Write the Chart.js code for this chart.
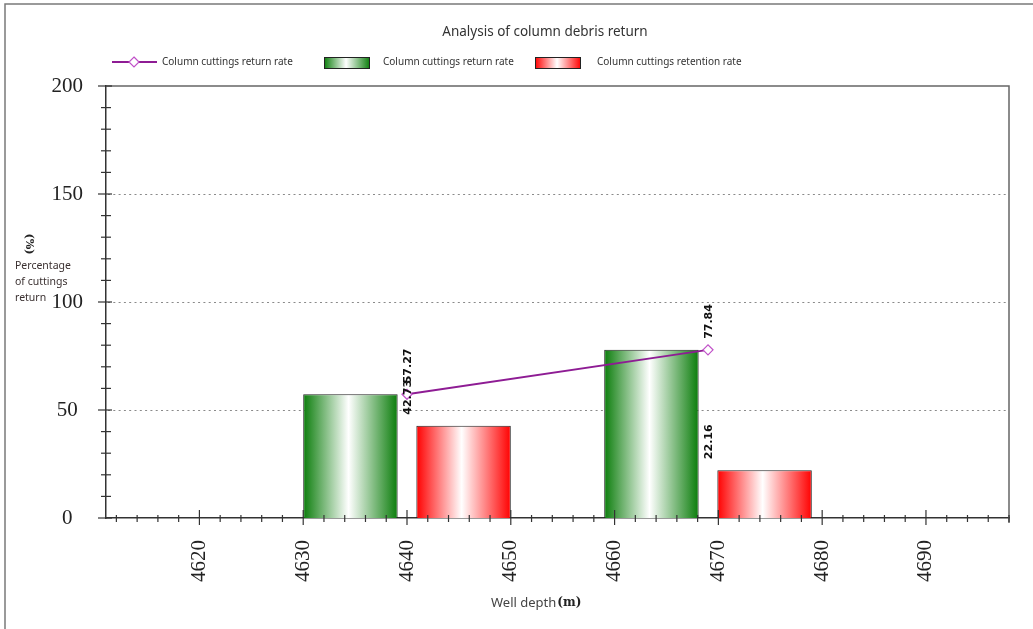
<!DOCTYPE html>
<html>
<head>
<meta charset="utf-8">
<script src="https://cdn.jsdelivr.net/npm/chart.js@4"></script>
<style>
  html, body { margin: 0; padding: 0; background: #fff; }
  #wrap { width: 1033px; height: 629px; position: relative; }
</style>
</head>
<body>
<div id="wrap"><canvas id="debrisChart"></canvas></div>
<script>
// Depth of each interval centre (m) and the rates
const depthCenters = [4640, 4669];
const returnRate = [57.27, 77.84];
const retentionRate = [42.73, 22.16];
// Bar positions (m): return bar left of centre, retention bar right of it
const returnBarDepth = [4634.55, 4663.55];
const retentionBarDepth = [4645.45, 4674.45];
const xTickStep = 10;
const yTickStep = 50;

const seriesNames = ["Column cuttings return rate", "Column cuttings return rate", "Column cuttings retention rate"];

const GREEN = "#0b7d0b";
const RED = "#ff0000";
const PURPLE = "#8e1c94";
const HALF_BAR = 4.55; // half the bar width in metres (0.91 of one 10 m tick step)

function barGradient(c, dark) {
    const chart = c.chart;
    const x = chart.scales.x;
    if (!chart.chartArea || !x || !c.raw) return dark;
    const l = x.getPixelForValue(c.raw.x - HALF_BAR);
    const r = x.getPixelForValue(c.raw.x + HALF_BAR);
    const g = chart.ctx.createLinearGradient(l, 0, r, 0);
    g.addColorStop(0, dark);
    g.addColorStop(0.48, "#ffffff");
    g.addColorStop(1, dark);
    return g;
}

// ticks, dotted grid and frame
const framePlugin = {
    id: "frame",
    beforeDatasetsDraw(chart) {
        const {ctx, chartArea: a, scales: {y}} = chart;
        ctx.save();
        ctx.strokeStyle = "#8a8a8a";
        ctx.lineWidth = 1;
        ctx.setLineDash([2, 3.3]);
        for (let v = yTickStep; v < 200; v += yTickStep) {
            const py = Math.round(y.getPixelForValue(v)) + 0.5;
            ctx.beginPath();
            ctx.moveTo(a.left + 2, py);
            ctx.lineTo(a.right, py);
            ctx.stroke();
        }
        ctx.restore();
    },
    afterDraw(chart) {
        const {ctx, chartArea: a, scales: {x, y}} = chart;
        ctx.save();
        // outer frame
        ctx.strokeStyle = "#7a7a7a";
        ctx.lineWidth = 1.5;
        ctx.beginPath();
        ctx.moveTo(5, 629);
        ctx.lineTo(5, 4);
        ctx.lineTo(1033, 4);
        ctx.stroke();
        // plot frame top and right
        ctx.strokeStyle = "#666";
        ctx.beginPath();
        ctx.moveTo(a.left, a.top);
        ctx.lineTo(a.right, a.top);
        ctx.lineTo(a.right, a.bottom + 5);
        ctx.stroke();
        // y ticks
        ctx.strokeStyle = "#333";
        ctx.lineWidth = 1.2;
        for (let v = 0; v <= 200; v += 10) {
            const py = y.getPixelForValue(v);
            const major = v % yTickStep === 0;
            ctx.beginPath();
            ctx.moveTo(a.left - (major ? 8 : 5), py);
            ctx.lineTo(a.left + (major ? 6 : 5), py);
            ctx.stroke();
        }
        // x ticks
        for (let v = 4612; v <= 4698; v += 2) {
            const px = x.getPixelForValue(v);
            const major = v % xTickStep === 0;
            ctx.beginPath();
            ctx.moveTo(px, a.bottom - (major ? 8 : 3));
            ctx.lineTo(px, a.bottom + (major ? 7 : 4));
            ctx.stroke();
        }
        ctx.restore();
    }
};

// title, legend, axis titles and value labels
const textPlugin = {
    id: "texts",
    afterDraw(chart) {
        const {ctx, scales: {x, y}} = chart;
        ctx.save();
        ctx.fillStyle = "#333";
        ctx.textBaseline = "middle";
        ctx.font = "13.5px 'Noto Sans'";
        ctx.textAlign = "center";
        ctx.fillText("Analysis of column debris return", 545, 32);

        // legend
        ctx.textAlign = "left";
        ctx.font = "10px 'Noto Sans'";
        ctx.strokeStyle = PURPLE;
        ctx.lineWidth = 2;
        ctx.beginPath();
        ctx.moveTo(112, 62);
        ctx.lineTo(157, 62);
        ctx.stroke();
        ctx.fillStyle = "#fff";
        ctx.strokeStyle = "#c050c8";
        ctx.lineWidth = 1.2;
        ctx.beginPath();
        ctx.moveTo(134, 57); ctx.lineTo(139, 62); ctx.lineTo(134, 67); ctx.lineTo(129, 62); ctx.closePath();
        ctx.fill(); ctx.stroke();
        ctx.fillStyle = "#333";
        ctx.fillText(seriesNames[0], 162, 62);

        const boxes = [[324, GREEN, seriesNames[1], 383], [535, RED, seriesNames[2], 597]];
        boxes.forEach(([bx, col, label, tx]) => {
            const g = ctx.createLinearGradient(bx, 0, bx + 46, 0);
            g.addColorStop(0, col); g.addColorStop(0.48, "#fff"); g.addColorStop(1, col);
            ctx.fillStyle = g;
            ctx.fillRect(bx, 57, 46, 12);
            ctx.strokeStyle = "#222";
            ctx.lineWidth = 1;
            ctx.strokeRect(bx + 0.5, 57.5, 45, 11);
            ctx.fillStyle = "#333";
            ctx.fillText(label, tx, 62);
        });

        // y axis title
        ctx.save();
        ctx.translate(29, 244);
        ctx.rotate(Math.PI / 2);
        ctx.textAlign = "center";
        ctx.font = "bold 11px 'DejaVu Serif'";
        ctx.fillStyle = "#222";
        ctx.fillText("(%)", 0, 0);
        ctx.restore();
        ctx.font = "10.5px 'Noto Sans'";
        ctx.fillStyle = "#3a3030";
        ctx.fillText("Percentage", 15, 266);
        ctx.fillText("of cuttings", 15, 282);
        ctx.fillText("return", 15, 298);

        // x axis title
        ctx.font = "13px 'Noto Sans'";
        ctx.fillStyle = "#444";
        ctx.fillText("Well depth", 491, 603);
        const w = ctx.measureText("Well depth").width;
        ctx.font = "bold 12px 'DejaVu Serif'";
        ctx.fillStyle = "#222";
        ctx.fillText("(m)", 491 + w + 1, 603);

        // value labels, rotated, above each value at the interval centre
        ctx.font = "bold 11px 'DejaVu Sans'";
        ctx.fillStyle = "#111";
        const labelAt = (d, v) => {
            ctx.save();
            ctx.translate(x.getPixelForValue(d) + 1, y.getPixelForValue(v) - 11);
            ctx.rotate(-Math.PI / 2);
            ctx.textAlign = "left";
            ctx.fillText(v.toFixed(2), 0, 0);
            ctx.restore();
        };
        depthCenters.forEach((d, i) => {
            labelAt(d, returnRate[i]);
            labelAt(d, retentionRate[i]);
        });
        ctx.restore();
    }
};

const serif = {family: "'Liberation Serif', 'DejaVu Serif', serif", size: 21};

new Chart(document.getElementById("debrisChart").getContext("2d"), {
    type: "bar",
    data: {
        datasets: [
            {
                type: "line",
                label: seriesNames[0],
                data: depthCenters.map((d, i) => ({x: d, y: returnRate[i]})),
                borderColor: PURPLE,
                borderWidth: 2,
                pointStyle: "rectRot",
                pointRadius: 5,
                pointBackgroundColor: "#fff",
                pointBorderColor: "#c050c8",
                pointBorderWidth: 1.2,
                order: 0
            },
            {
                label: seriesNames[1],
                data: returnBarDepth.map((d, i) => ({x: d, y: returnRate[i]})),
                backgroundColor: c => barGradient(c, GREEN),
                borderColor: "#222",
                borderWidth: 1,
                grouped: false,
                barPercentage: 1,
                categoryPercentage: 0.91,
                order: 1
            },
            {
                label: seriesNames[2],
                data: retentionBarDepth.map((d, i) => ({x: d, y: retentionRate[i]})),
                backgroundColor: c => barGradient(c, RED),
                borderColor: "#222",
                borderWidth: 1,
                grouped: false,
                barPercentage: 1,
                categoryPercentage: 0.91,
                order: 1
            }
        ]
    },
    options: {
        responsive: true,
        maintainAspectRatio: false,
        animation: false,
        layout: {padding: {left: 0, right: 24, top: 86, bottom: 0}},
        plugins: {
            legend: {display: false},
            title: {display: false},
            tooltip: {enabled: false}
        },
        scales: {
            x: {
                type: "linear",
                offset: false,
                min: 4611,
                max: 4698,
                grid: {display: false, drawTicks: false, offset: false},
                border: {display: true, color: "#333", width: 1.5},
                ticks: {
                    stepSize: xTickStep,
                    includeBounds: false,
                    autoSkip: false,
                    maxRotation: 90,
                    minRotation: 90,
                    padding: 22,
                    font: serif,
                    color: "#222",
                    callback: v => String(v)
                },
                afterFit: s => { s.height = 111; }
            },
            y: {
                min: 0,
                max: 200,
                grid: {display: false, drawTicks: false},
                border: {display: true, color: "#333", width: 1.5},
                ticks: {
                    stepSize: yTickStep,
                    crossAlign: "center",
                    padding: 23,
                    font: serif,
                    color: "#222"
                },
                afterFit: s => { s.width = 106; }
            }
        }
    },
    plugins: [framePlugin, textPlugin]
});
</script>
</body>
</html>
